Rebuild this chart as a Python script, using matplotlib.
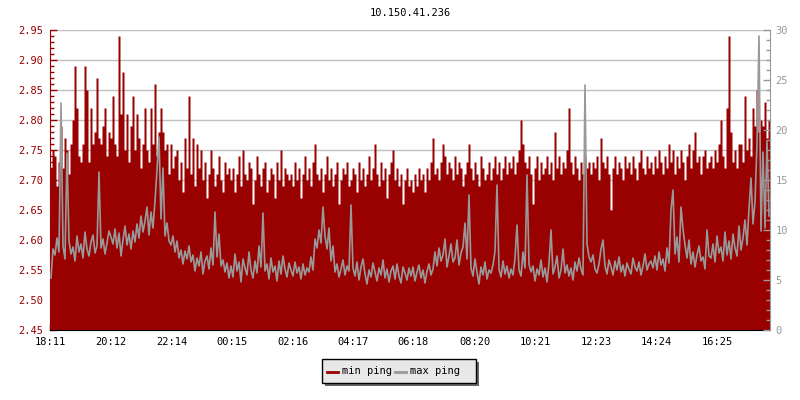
"""
    min/max ping for 10.150.41.236 over one day
"""
import matplotlib

matplotlib.use("Agg")
import matplotlib.pyplot as plt
import numpy as np
from matplotlib.patches import Rectangle
from matplotlib.ticker import MultipleLocator

plt.rcParams["font.family"] = ["DejaVu Sans Mono"]
plt.rcParams["font.size"] = 7.5

title = "10.150.41.236"
legend_labels = ["min ping", "max ping"]
tick_labels = ["18:11", "20:12", "22:14", "00:15", "02:16", "04:17",
               "06:18", "08:20", "10:21", "12:23", "14:24", "16:25"]
step_minutes = 4  # one sample every 4 minutes, 360 samples = 24h

# min ping (ms, left axis)
min_ping = [
    2.72, 2.75, 2.74, 2.69, 2.73, 2.79, 2.72, 2.77, 2.75, 2.71,
    2.76, 2.80, 2.89, 2.82, 2.74, 2.73, 2.76, 2.89, 2.85, 2.73,
    2.82, 2.76, 2.78, 2.87, 2.77, 2.76, 2.79, 2.82, 2.74, 2.78,
    2.77, 2.84, 2.76, 2.74, 2.94, 2.81, 2.88, 2.75, 2.81, 2.73,
    2.79, 2.84, 2.75, 2.81, 2.77, 2.72, 2.76, 2.82, 2.75, 2.73,
    2.82, 2.76, 2.86, 2.74, 2.78, 2.82, 2.78, 2.75, 2.76, 2.71,
    2.76, 2.72, 2.74, 2.75, 2.70, 2.73, 2.68, 2.77, 2.72, 2.84,
    2.71, 2.77, 2.69, 2.76, 2.72, 2.75, 2.70, 2.73, 2.67, 2.71,
    2.75, 2.72, 2.69, 2.71, 2.74, 2.70, 2.68, 2.73, 2.71, 2.72,
    2.70, 2.72, 2.68, 2.71, 2.74, 2.69, 2.75, 2.71, 2.70, 2.73,
    2.72, 2.66, 2.70, 2.74, 2.71, 2.69, 2.72, 2.73, 2.68, 2.70,
    2.72, 2.71, 2.67, 2.73, 2.70, 2.75, 2.69, 2.72, 2.71, 2.70,
    2.71, 2.69, 2.73, 2.70, 2.72, 2.67, 2.71, 2.74, 2.70, 2.72,
    2.69, 2.73, 2.76, 2.71, 2.70, 2.72, 2.68, 2.71, 2.74, 2.70,
    2.72, 2.69, 2.71, 2.73, 2.66, 2.70, 2.72, 2.71, 2.73, 2.69,
    2.70, 2.72, 2.71, 2.68, 2.73, 2.70, 2.72, 2.69, 2.71, 2.74,
    2.70, 2.72, 2.76, 2.71, 2.69, 2.73, 2.70, 2.72, 2.67, 2.71,
    2.73, 2.75, 2.70, 2.72, 2.69, 2.71, 2.66, 2.70, 2.72, 2.69,
    2.70, 2.68, 2.71, 2.69, 2.72, 2.70, 2.71, 2.68, 2.72, 2.70,
    2.73, 2.77, 2.71, 2.72, 2.70, 2.73, 2.76, 2.74, 2.71, 2.73,
    2.72, 2.70, 2.74, 2.71, 2.73, 2.72, 2.69, 2.71, 2.73, 2.76,
    2.72, 2.70, 2.73, 2.71, 2.69, 2.74, 2.72, 2.70, 2.71, 2.73,
    2.70, 2.72, 2.74, 2.71, 2.73, 2.70, 2.72, 2.74, 2.71, 2.73,
    2.72, 2.74, 2.71, 2.73, 2.75, 2.80, 2.76, 2.73, 2.72, 2.74,
    2.71, 2.66, 2.72, 2.74, 2.70, 2.73, 2.71, 2.72, 2.74, 2.71,
    2.73, 2.70, 2.78, 2.72, 2.74, 2.71, 2.73, 2.72, 2.75, 2.82,
    2.73, 2.71, 2.74, 2.72, 2.70, 2.73, 2.71, 2.74, 2.72, 2.73,
    2.71, 2.73, 2.72, 2.74, 2.70, 2.77, 2.73, 2.72, 2.74, 2.71,
    2.65, 2.72, 2.74, 2.71, 2.73, 2.72, 2.70, 2.74, 2.72, 2.73,
    2.71, 2.74, 2.72, 2.70, 2.73, 2.75, 2.72, 2.71, 2.74, 2.72,
    2.73, 2.71, 2.74, 2.72, 2.75, 2.73, 2.71, 2.74, 2.72, 2.76,
    2.73, 2.75, 2.71, 2.74, 2.72, 2.75, 2.73, 2.70, 2.74, 2.76,
    2.72, 2.75, 2.78, 2.73, 2.74, 2.71, 2.74, 2.75, 2.72, 2.73,
    2.74, 2.72, 2.75, 2.73, 2.76, 2.80, 2.74, 2.72, 2.82, 2.94,
    2.78, 2.73, 2.75, 2.72, 2.76, 2.76, 2.73, 2.84, 2.75, 2.77,
    2.74, 2.82, 2.79, 2.85, 2.78, 2.80, 2.79, 2.83, 2.77, 2.80,
]

# max ping (ms, right axis)
max_ping = [
    5.2, 8.1, 7.5, 9.2, 7.8, 22.7, 8.4, 7.1, 17.7, 8.9,
    7.6, 8.3, 6.9, 9.4, 7.8, 8.6, 7.2, 9.8, 8.1, 7.4,
    8.8, 9.5, 7.7, 8.4, 15.8, 8.2, 9.1, 7.6, 8.7, 9.9,
    9.3, 8.6, 10.1, 8.2, 9.7, 7.4, 9.0, 10.4, 8.5, 9.6,
    8.1, 9.9, 8.8, 10.6, 9.2, 11.4, 9.8, 10.9, 12.3, 9.5,
    11.8, 10.2, 12.9, 16.0, 19.3, 11.1, 16.2, 9.4, 10.7, 8.9,
    8.5, 9.4, 7.8, 8.9, 7.2, 8.0, 6.6, 7.9, 7.1, 8.4,
    6.8, 7.5, 5.9, 7.2, 6.4, 7.8, 5.6, 6.9, 7.4, 6.1,
    8.2, 6.5, 11.8, 7.3, 9.6, 6.4, 7.0, 5.8, 6.7, 5.2,
    6.4, 5.3, 7.6, 5.9, 6.8, 4.8, 7.1, 6.2, 5.5, 7.8,
    6.0, 5.2, 6.9, 5.7, 8.4, 6.3, 11.7, 5.9, 6.6, 5.1,
    7.2, 5.8, 6.4, 4.9, 6.9, 5.6, 7.4, 6.1, 5.3, 6.7,
    6.0, 5.4, 6.8, 5.7, 6.3, 5.1, 6.6, 5.5, 6.2, 5.8,
    7.3, 6.0, 9.1, 8.2, 10.0, 8.7, 12.3, 9.4, 8.1, 10.2,
    6.9, 8.4, 5.8, 6.6, 5.3, 6.1, 7.0, 5.5, 6.4, 5.9,
    12.5, 6.2, 5.4, 6.8, 5.0, 6.3, 7.1, 5.6, 4.6, 6.0,
    5.3, 6.7, 5.8, 4.9, 6.2, 5.5, 7.0, 5.2, 6.1, 4.8,
    5.9, 6.4, 5.1, 6.6, 5.4, 4.7, 6.3, 5.7, 5.0, 6.2,
    5.4, 6.3, 4.9, 5.8, 6.5, 5.2, 6.0, 4.7, 5.9, 6.6,
    5.5, 6.1, 7.8, 6.4, 8.2, 6.9, 7.5, 9.1, 6.3, 7.4,
    8.6, 6.8, 7.2, 9.0, 6.5, 7.7, 8.3, 10.7, 7.1, 13.5,
    6.2, 5.4, 7.1, 5.8, 4.6, 6.3, 5.5, 6.8, 5.1, 6.0,
    5.7, 6.5, 7.9, 14.5, 6.1, 5.3, 6.9, 5.6, 6.4, 5.2,
    6.1, 5.5, 7.2, 10.5, 6.0, 5.4, 7.8, 6.2, 15.5, 6.6,
    5.8, 6.4, 4.9, 6.1, 5.5, 7.0, 5.3, 6.2, 4.8, 6.7,
    10.0, 5.6, 6.3, 7.4, 5.2, 6.0, 8.1, 5.7, 6.5, 5.4,
    6.2, 5.0, 6.8, 5.9, 7.2, 6.1, 5.5, 24.5, 8.6, 7.3,
    6.8, 7.5, 6.1, 5.7, 6.6, 8.1, 9.0, 6.4, 5.6, 7.0,
    6.3, 5.5, 6.9, 6.0, 7.3, 5.8, 6.5, 5.4, 6.7, 6.1,
    5.6, 7.2, 6.3, 5.9, 6.8, 5.5, 6.4, 7.6, 6.0, 6.6,
    6.9, 6.2, 7.4, 6.0, 7.8, 6.5, 7.1, 5.9, 8.2, 6.7,
    12.0, 14.0, 7.6, 9.3, 6.8, 12.3, 10.1, 8.5, 7.2, 9.0,
    6.6, 7.8, 6.3, 7.5, 8.4, 6.9, 7.3, 6.1, 10.0, 7.4,
    7.2, 8.6, 6.8, 9.4, 7.7, 8.3, 6.9, 9.8, 7.5, 8.9,
    7.1, 9.6, 8.2, 7.4, 10.4, 8.0, 9.2, 11.0, 8.5, 12.1,
    15.2, 10.6, 12.8, 18.6, 29.4, 9.9, 17.8, 10.2, 18.9, 11.4,
]

RED = "#990000"
GRAY = "#999999"

t = np.arange(len(min_ping)) * step_minutes
span = len(min_ping) * step_minutes

# tick positions in minutes from the first label
tick_pos = []
first = int(tick_labels[0][:2]) * 60 + int(tick_labels[0][3:])
for lab in tick_labels:
    m = int(lab[:2]) * 60 + int(lab[3:]) - first
    if m < 0:
        m += 24 * 60
    tick_pos.append(m)

W, H = 800, 400
fig = plt.figure(figsize=(W / 100, H / 100), dpi=100)
ax = fig.add_axes([50 / W, 70 / H, 720 / W, 300 / H])
ax2 = ax.twinx()

ax.fill_between(np.append(t, span), 2.45, np.append(min_ping, min_ping[-1]),
                step="post", color=RED, linewidth=0)
ax2.plot(t + step_minutes / 2, max_ping, color=GRAY, linewidth=1.2)

ax.set_xlim(0, span)
ax.set_ylim(2.45, 2.95)
ax2.set_ylim(0, 30)

ax.set_axisbelow(True)
ax.yaxis.set_major_locator(MultipleLocator(0.05))
ax.yaxis.set_minor_locator(MultipleLocator(0.01))
ax.yaxis.set_major_formatter(plt.FormatStrFormatter("%.2f"))
ax.grid(axis="y", color="#c0c0c0", linewidth=1.0)
ax.set_xticks(tick_pos)
ax.set_xticklabels(tick_labels)

ax.tick_params(axis="y", which="major", direction="in", length=5, width=1,
               color=RED, labelcolor=RED, pad=5)
ax.tick_params(axis="y", which="minor", direction="in", length=3, width=1, color=RED)
ax.tick_params(axis="x", direction="in", length=4, width=1, color="black", pad=5)

ax2.yaxis.set_major_locator(MultipleLocator(5))
ax2.yaxis.set_minor_locator(MultipleLocator(1))
ax2.tick_params(axis="y", which="major", direction="in", length=5, width=1,
                color=GRAY, labelcolor=GRAY, pad=4)
ax2.tick_params(axis="y", which="minor", direction="in", length=3, width=1, color=GRAY)

for s in ["top", "right"]:
    ax.spines[s].set_visible(False)
ax.spines["left"].set_color(RED)
ax.spines["bottom"].set_color("black")
for s in ["top", "left", "bottom"]:
    ax2.spines[s].set_visible(False)
ax2.spines["right"].set_color(GRAY)

fig.text(410 / W, 1 - 13 / H, title, ha="center", va="center", color="black")

# legend box drawn by hand, in pixel units of the figure
def px(x, y):
    return x / W, 1 - y / H


box_x0, box_y0, box_x1, box_y1 = 322, 359, 476, 383
fig.add_artist(Rectangle(px(box_x0 + 3, box_y1 + 3), (box_x1 - box_x0) / W,
                         (box_y1 - box_y0) / H, transform=fig.transFigure,
                         facecolor="#666666", edgecolor="none", zorder=4))
fig.add_artist(Rectangle(px(box_x0, box_y1), (box_x1 - box_x0) / W,
                         (box_y1 - box_y0) / H, transform=fig.transFigure,
                         facecolor="#e8e8e8", edgecolor="black", linewidth=1.0,
                         zorder=5))
for (x0, lab, col) in [(327, legend_labels[0], RED), (395, legend_labels[1], GRAY)]:
    lx, ly = px(x0, 371.5)
    fig.add_artist(plt.Line2D([lx, lx + 11 / W], [ly, ly], color=col,
                              linewidth=2.0, transform=fig.transFigure, zorder=6))
    fig.text(lx + 15 / W, ly, lab, ha="left", va="center", color="black", zorder=6)

fig.savefig("out.png", dpi=100)
